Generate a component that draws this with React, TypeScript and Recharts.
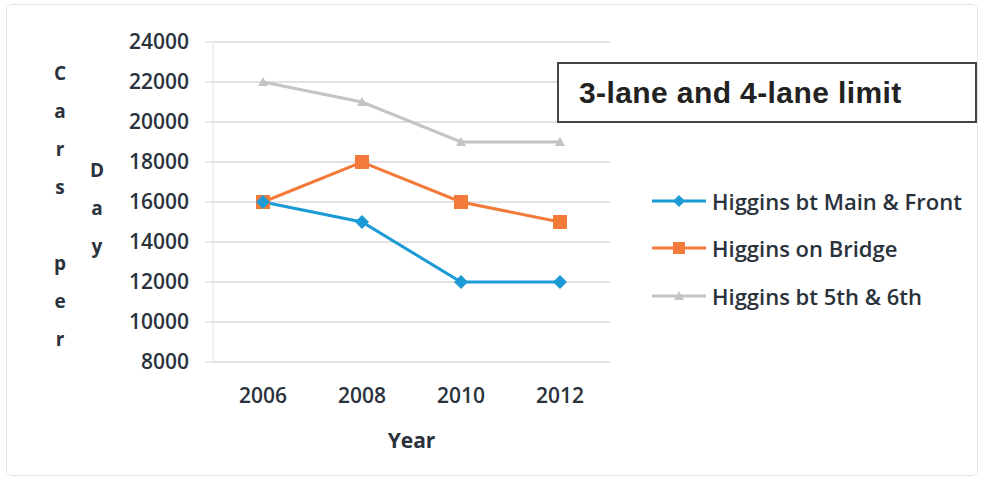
import { LineChart, Line, XAxis, YAxis, CartesianGrid } from 'recharts';

// Average daily traffic counts, Higgins Ave
const years = ['2006', '2008', '2010', '2012'];
const mainFront = [16000, 15000, 12000, 12000];
const onBridge = [16000, 18000, 16000, 15000];
const fifthSixth = [22000, 21000, 19000, 19000];
const yTicks = [8000, 10000, 12000, 14000, 16000, 18000, 20000, 22000, 24000];

const data = years.map((year, i) => ({
  year,
  mainFront: mainFront[i],
  onBridge: onBridge[i],
  fifthSixth: fifthSixth[i],
}));

const BLUE = '#1b9ad6';
const ORANGE = '#f47a3a';
const GRAY = '#c4c4c4';
const TEXT = '#2a323c';
const FONT = '"Open Sans", "DejaVu Sans", sans-serif';

const Diamond = (props: any) => {
  const { cx, cy, fill, r = 6 } = props;
  if (cx == null || cy == null) return null;
  return <polygon points={`${cx},${cy - r} ${cx + r},${cy} ${cx},${cy + r} ${cx - r},${cy}`} fill={fill} />;
};

const Square = (props: any) => {
  const { cx, cy, fill, r = 6 } = props;
  if (cx == null || cy == null) return null;
  return <rect x={cx - r} y={cy - r} width={r * 2} height={r * 2} fill={fill} />;
};

const Triangle = (props: any) => {
  const { cx, cy, fill, r = 5 } = props;
  if (cx == null || cy == null) return null;
  return <polygon points={`${cx},${cy - r} ${cx + r},${cy + r * 0.8} ${cx - r},${cy + r * 0.8}`} fill={fill} />;
};

// stacked letters "Cars per" / "Day", as in the original spreadsheet
const StackedTitle = () => {
  const col1 = ['C', 'a', 'r', 's', '', 'p', 'e', 'r'];
  const col2 = ['D', 'a', 'y'];
  const style = { fontFamily: FONT, fontSize: 19, fontWeight: 700, fill: TEXT };
  return (
    <g>
      {col1.map((ch, i) => (
        <text key={'a' + i} x={60} y={80 + i * 38} textAnchor="middle" style={style}>
          {ch}
        </text>
      ))}
      {col2.map((ch, i) => (
        <text key={'b' + i} x={97} y={177 + i * 38} textAnchor="middle" style={style}>
          {ch}
        </text>
      ))}
    </g>
  );
};

const legendItems = [
  { name: 'Higgins bt Main & Front', color: BLUE, Shape: Diamond, r: 6 },
  { name: 'Higgins on Bridge', color: ORANGE, Shape: Square, r: 6 },
  { name: 'Higgins bt 5th & 6th', color: GRAY, Shape: Triangle, r: 5 },
];

export default function App() {
  return (
    <div style={{ position: 'absolute', left: 0, top: 0, width: 983, height: 482, background: '#fff', fontFamily: FONT }}>
      <div
        style={{
          position: 'absolute',
          left: 6,
          top: 4,
          width: 970,
          height: 470,
          border: '1px solid #e6e6e6',
          borderRadius: 6,
        }}
      />
      <LineChart width={983} height={482} data={data} margin={{ top: 42, right: 373, bottom: 0, left: 0 }}>
        <CartesianGrid vertical={false} stroke="#d9d9d9" strokeWidth={1.5} />
        <XAxis
          dataKey="year"
          axisLine={false}
          tickLine={false}
          tickSize={0}
          tickMargin={26}
          height={120}
          padding={{ left: 50, right: 50 }}
          tick={{ fill: TEXT, fontSize: 21, fontWeight: 600, fontFamily: FONT }}
          label={{ value: 'Year', position: 'insideBottom', offset: 34, fill: TEXT, fontSize: 21, fontWeight: 700, fontFamily: FONT }}
        />
        <YAxis
          width={213}
          domain={[8000, 24000]}
          ticks={yTicks}
          axisLine={{ stroke: '#e3e3e3' }}
          tickLine={{ stroke: '#d9d9d9' }}
          tickSize={8}
          tickMargin={16}
          tick={{ fill: TEXT, fontSize: 21, fontWeight: 600, fontFamily: FONT }}
          label={<StackedTitle />}
        />
        <Line
          dataKey="fifthSixth"
          stroke={GRAY}
          strokeWidth={3}
          dot={<Triangle fill={GRAY} r={5} />}
          isAnimationActive={false}
        />
        <Line
          dataKey="onBridge"
          stroke={ORANGE}
          strokeWidth={3}
          dot={<Square fill={ORANGE} r={7} />}
          isAnimationActive={false}
        />
        <Line
          dataKey="mainFront"
          stroke={BLUE}
          strokeWidth={3}
          dot={<Diamond fill={BLUE} r={7} />}
          isAnimationActive={false}
        />
      </LineChart>

      {/* annotation box */}
      <div
        style={{
          position: 'absolute',
          left: 557,
          top: 62,
          width: 420,
          height: 61,
          border: '2px solid #444',
          background: '#fff',
          display: 'flex',
          alignItems: 'center',
          paddingLeft: 20,
          boxSizing: 'border-box',
          fontFamily: '"Liberation Sans", Arial, sans-serif',
          fontWeight: 700,
          fontSize: 30,
          letterSpacing: 0.4,
          color: '#222',
        }}
      >
        3-lane and 4-lane limit
      </div>

      {/* legend */}
      <div style={{ position: 'absolute', left: 650, top: 177 }}>
        {legendItems.map((item) => (
          <div key={item.name} style={{ display: 'flex', alignItems: 'center', height: 47.5 }}>
            <svg width={58} height={20}>
              <line x1={2} y1={10} x2={56} y2={10} stroke={item.color} strokeWidth={3} />
              <item.Shape cx={29} cy={10} fill={item.color} r={item.r} />
            </svg>
            <span style={{ marginLeft: 4, fontSize: 22, fontWeight: 600, color: TEXT, whiteSpace: 'nowrap' }}>
              {item.name}
            </span>
          </div>
        ))}
      </div>
    </div>
  );
}
